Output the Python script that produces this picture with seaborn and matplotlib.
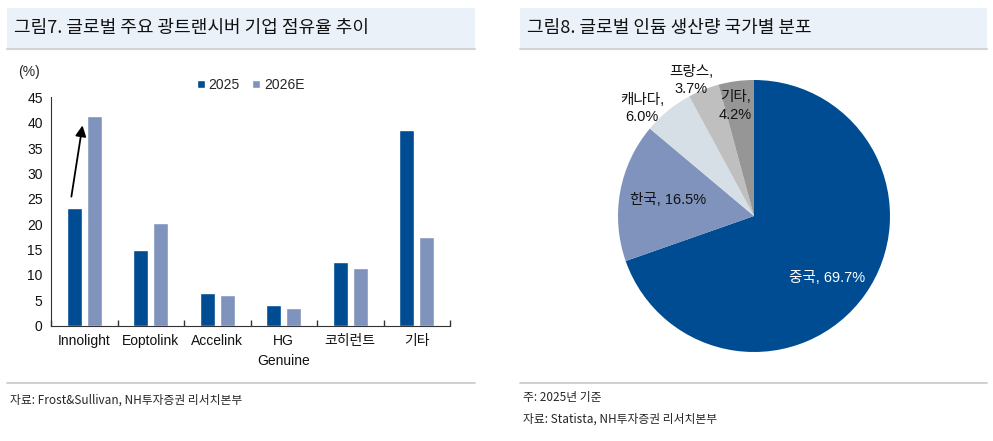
import numpy as np
import pandas as pd
import seaborn as sns
import matplotlib.pyplot as plt
from matplotlib.patches import Rectangle
from matplotlib.lines import Line2D

# -----------------------------------------
# data
# -----------------------------------------
companies = ["Innolight", "Eoptolink", "Accelink", "HG\nGenuine", "코히런트", "기타"]
share_2025 = [23.2, 14.9, 6.5, 4.1, 12.5, 38.6]
share_2026e = [41.3, 20.2, 6.0, 3.5, 11.3, 17.5]
years = ["2025", "2026E"]

countries = ["중국", "한국", "캐나다", "프랑스", "기타"]
country_share = [69.7, 16.5, 6.0, 3.7, 4.2]

# -----------------------------------------
# style
# -----------------------------------------
sns.set_theme(style="white")
plt.rcParams["font.family"] = ["Liberation Sans", "Noto Sans CJK KR", "DejaVu Sans"]
kr = ["Noto Sans CJK KR", "DejaVu Sans"]
narrow = ["Liberation Sans Narrow", "Noto Sans CJK KR", "DejaVu Sans"]

blue = "#004C93"
light = "#7F93BC"
pie_colors = [blue, light, "#D6DEE6", "#BFBFBF", "#969696"]

fig = plt.figure(figsize=(9.93, 4.41), dpi=100)
W, H = 993, 441

def fx(px):
    return px / W

def fy(py):
    return 1 - py / H

# title bars + rules
for x0, x1, title in [(7, 475, "그림7. 글로벌 주요 광트랜시버 기업 점유율 추이"),
                      (520, 987, "그림8. 글로벌 인듐 생산량 국가별 분포")]:
    fig.add_artist(Rectangle((fx(x0), fy(48)), fx(x1 - x0), 40 / H,
                             transform=fig.transFigure, color="#EAF1F9", lw=0))
    fig.add_artist(Line2D([fx(x0), fx(x1)], [fy(48.5), fy(48.5)],
                          transform=fig.transFigure, color="#D3D3D3", lw=1.5))
    fig.text(fx(x0 + 7), fy(28), title, family=kr, fontsize=13,
             va="center", ha="left", color="#111111")
    fig.add_artist(Line2D([fx(x0), fx(x1)], [fy(382.5), fy(382.5)],
                          transform=fig.transFigure, color="#C8C8C8", lw=1.2))

fig.text(fx(10), fy(400), "자료: Frost&Sullivan, NH투자증권 리서치본부",
         family=narrow, fontsize=8.5, va="center")
fig.text(fx(523), fy(398), "주: 2025년 기준", family=narrow, fontsize=8.5, va="center")
fig.text(fx(523), fy(419), "자료: Statista, NH투자증권 리서치본부",
         family=narrow, fontsize=8.5, va="center")

# -----------------------------------------
# bar chart
# -----------------------------------------
df = pd.DataFrame({
    "company": companies * 2,
    "year": [years[0]] * len(companies) + [years[1]] * len(companies),
    "share": share_2025 + share_2026e,
})

ax = fig.add_axes([fx(51), fy(325.7), fx(450 - 51), (325.7 - 97.3) / H])
sns.barplot(data=df, x="company", y="share", hue="year", palette=[blue, light],
            width=0.6, gap=0.25, saturation=1, ax=ax, legend=True)
ax.set_ylim(0, 45)
ax.set_yticks(range(0, 50, 5))
ax.set_xlim(-0.5, len(companies) - 0.5)
ax.set_xlabel("")
ax.set_ylabel("")
for s in ["top", "right"]:
    ax.spines[s].set_visible(False)
for s in ["left", "bottom"]:
    ax.spines[s].set_color("#333333")
    ax.spines[s].set_linewidth(0.8)
ax.tick_params(axis="y", labelsize=10, length=0, pad=6, colors="#111111")
ax.tick_params(axis="x", labelsize=10, length=0, pad=6, colors="#111111")
for lab in ax.get_xticklabels():
    lab.set_linespacing(1.5)
# minor ticks between categories on the x axis
ax.set_xticks(np.arange(-0.5, len(companies), 1), minor=True)
ax.tick_params(axis="x", which="minor", direction="in", length=4, color="#333333",
               bottom=True)
ax.text(-0.055, 1.11, "(%)", transform=ax.transAxes, fontsize=10, ha="center", va="center")
leg = ax.legend(loc="upper center", bbox_to_anchor=(0.5, 1.14), ncol=2, frameon=False,
                fontsize=10, handlelength=0.6, handleheight=0.6, handletextpad=0.25,
                columnspacing=0.9)

# arrow from 2025 to 2026E for Innolight
ax.annotate("", xy=(-0.02, share_2026e[0] - 1.3), xytext=(-0.2, share_2025[0] + 1.7),
            arrowprops=dict(arrowstyle="-|>", color="black", lw=1.3,
                            mutation_scale=16))

# -----------------------------------------
# pie chart
# -----------------------------------------
r = 136
pax = fig.add_axes([fx(754 - r), fy(216 + r), fx(2 * r), 2 * r / H])
wedges, _ = pax.pie(country_share, colors=pie_colors, startangle=90, counterclock=False,
                    wedgeprops=dict(linewidth=0))
pax.set_xlim(-1, 1)
pax.set_ylim(-1, 1)
pax.set_aspect("equal")

label_dist = [0.70, 0.64, 1.14, 1.10, 0.82]
label_text = ["{}, {}%".format(countries[0], country_share[0]),
              "{}, {}%".format(countries[1], country_share[1]),
              "{},\n{}%".format(countries[2], country_share[2]),
              "{},\n{}%".format(countries[3], country_share[3]),
              "{},\n{}%".format(countries[4], country_share[4])]
label_color = ["white", "#111111", "#111111", "#111111", "#111111"]
label_dtheta = [-5, 0, 7, 3, 2]
for w, d, t, c, dt in zip(wedges, label_dist, label_text, label_color, label_dtheta):
    ang = np.deg2rad((w.theta1 + w.theta2) / 2 + dt)
    pax.text(d * np.cos(ang), d * np.sin(ang), t, ha="center", va="center",
             fontsize=10.5, color=c, linespacing=1.3)

plt.savefig("out.png", dpi=100)
